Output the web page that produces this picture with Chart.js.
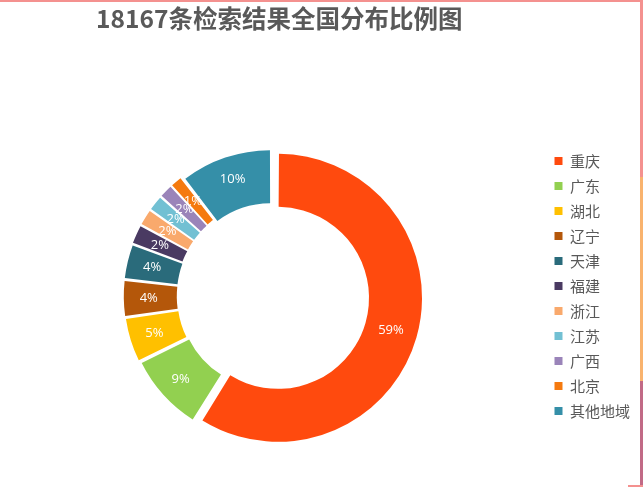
<!DOCTYPE html>
<html>
<head>
<meta charset="utf-8">
<script src="https://cdn.jsdelivr.net/npm/chart.js@4/dist/chart.umd.min.js"></script>
<style>
  html, body { margin: 0; padding: 0; background: #ffffff; }
  #wrap { position: relative; width: 643px; height: 487px; overflow: hidden; }
  #c { position: absolute; left: 0; top: 0; }
  .bd { position: absolute; }
</style>
</head>
<body>
<div id="wrap">
  <canvas id="c" width="643" height="487"></canvas>
  <div class="bd" style="left:0;top:0;width:643px;height:2px;background:#F4918F;"></div>
  <div class="bd" style="left:640px;top:0;width:3px;height:177px;background:#F4918F;"></div>
  <div class="bd" style="left:640px;top:177px;width:3px;height:204px;background:#F9B36E;"></div>
  <div class="bd" style="left:640px;top:381px;width:3px;height:106px;background:#C16A86;"></div>
  <div class="bd" style="left:628px;top:485px;width:15px;height:2px;background:#F4918F;"></div>
</div>
<script>
const titleText = '18167条检索结果全国分布比例图';
const categories = ['重庆', '广东', '湖北', '辽宁', '天津', '福建', '浙江', '江苏', '广西', '北京', '其他地域'];
const shares = [58.9, 8.8, 5.0, 4.1, 3.9, 2.2, 1.9, 1.8, 1.6, 1.4, 10.4];
const labels = ['59%', '9%', '5%', '4%', '4%', '2%', '2%', '2%', '2%', '1%', '10%'];
const colors = ['#FF4A0E', '#92D050', '#FFC000', '#B4570A', '#2A6B7B', '#4A3A62', '#F9A96C', '#72C0D3', '#9A84B9', '#F57A0F', '#358FA8'];

const OFFSET = 24;

const sliceLabels = {
  id: 'sliceLabels',
  afterDatasetsDraw(chart) {
    const ctx = chart.ctx;
    const meta = chart.getDatasetMeta(0);
    ctx.save();
    ctx.font = '13px "Open Sans", "Noto Sans", sans-serif';
    ctx.fillStyle = '#ffffff';
    ctx.textAlign = 'center';
    ctx.textBaseline = 'middle';
    meta.data.forEach((arc, i) => {
      const p = arc.getProps(['x', 'y', 'startAngle', 'endAngle', 'innerRadius', 'outerRadius']);
      const a = (p.startAngle + p.endAngle) / 2;
      const r = (p.innerRadius + p.outerRadius) / 2 + OFFSET / 4 + OFFSET / 4;
      ctx.fillText(labels[i], p.x + Math.cos(a) * r, p.y + Math.sin(a) * r);
    });
    ctx.restore();
  }
};

const titleShift = {
  id: 'titleShift',
  afterLayout(chart) {
    if (chart.titleBlock) {
      chart.titleBlock.left += 14;
    }
  }
};

new Chart(document.getElementById('c'), {
  type: 'doughnut',
  data: {
    labels: categories,
    datasets: [{
      data: shares,
      backgroundColor: colors,
      borderWidth: 0,
      offset: OFFSET
    }]
  },
  options: {
    responsive: false,
    animation: false,
    radius: 138,
    cutout: '61.6%',
    layout: { padding: { left: 0, right: 3, top: 0, bottom: 38 } },
    plugins: {
      tooltip: { enabled: false },
      title: {
        display: true,
        text: titleText,
        fullSize: false,
        color: '#595959',
        font: { size: 24.5, weight: 'bold', family: '"Noto Sans CJK SC", sans-serif' },
        padding: { top: 4, bottom: 110 }
      },
      legend: {
        display: true,
        position: 'right',
        align: 'start',
        fullSize: false,
        labels: {
          boxWidth: 8,
          boxHeight: 8,
          padding: 10,
          color: '#595959',
          font: { size: 15, family: '"Noto Sans CJK SC", sans-serif' }
        }
      }
    }
  },
  plugins: [sliceLabels, titleShift]
});
</script>
</body>
</html>
